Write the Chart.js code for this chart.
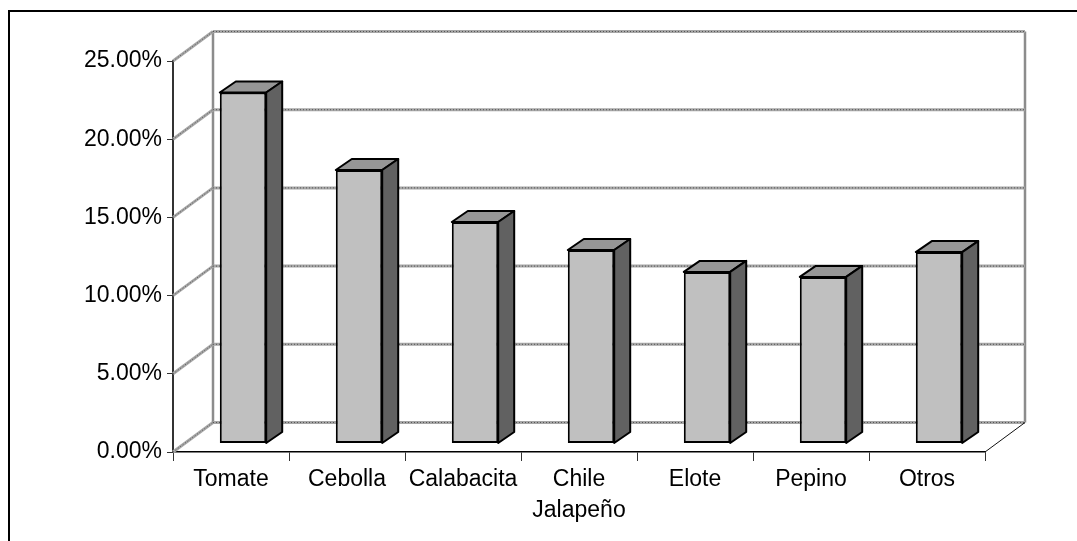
<!DOCTYPE html>
<html>
<head>
<meta charset="utf-8">
<title>Chart</title>
<script src="https://cdn.jsdelivr.net/npm/chart.js@4"></script>
<style>
  html, body { margin: 0; padding: 0; background: #fff; overflow: hidden; }
  canvas { display: block; }
</style>
</head>
<body>
<canvas id="myChart" width="1077" height="541"></canvas>
<script>
const categories = ["Tomate", "Cebolla", "Calabacita", ["Chile", "Jalapeño"], "Elote", "Pepino", "Otros"];
const values = [22.44, 17.49, 14.16, 12.37, 10.97, 10.65, 12.24];
const tickValues = [0, 5, 10, 15, 20, 25];

// fake 3d depth, in pixels
const wallDx = 40, wallDy = -29.5;
const barShiftX = 12, barShiftY = -8.5;
const barDx = 16, barDy = -11;

function line(ctx, x1, y1, x2, y2) {
  ctx.beginPath();
  ctx.moveTo(x1, y1);
  ctx.lineTo(x2, y2);
  ctx.stroke();
}

// gray line with a dotted dark core, like the old Excel gridlines
function gridLine(ctx, x1, y1, x2, y2) {
  ctx.setLineDash([]);
  ctx.strokeStyle = "#a6a6a6";
  ctx.lineWidth = 3;
  line(ctx, x1, y1, x2, y2);
  ctx.setLineDash([1, 2]);
  ctx.strokeStyle = "#555";
  ctx.lineWidth = 1;
  line(ctx, x1, y1, x2, y2);
  ctx.setLineDash([]);
}

const walls = {
  id: "walls",
  beforeDatasetsDraw(chart) {
    const { ctx, scales: { x, y } } = chart;
    const left = x.left, right = x.right;
    const bottom = y.getPixelForValue(0), top = y.getPixelForValue(25);
    ctx.save();

    // back wall edges
    ctx.strokeStyle = "#8c8c8c";
    ctx.lineWidth = 2.5;
    line(ctx, left + wallDx, top + wallDy, left + wallDx, bottom + wallDy);
    line(ctx, right + wallDx, top + wallDy, right + wallDx, bottom + wallDy);

    // gridlines across the back wall and down the side wall
    tickValues.forEach((v) => {
      const py = y.getPixelForValue(v);
      gridLine(ctx, left, py, left + wallDx, py + wallDy);
      gridLine(ctx, left + wallDx, py + wallDy, right + wallDx, py + wallDy);
    });

    // floor edge on the right
    ctx.strokeStyle = "#111";
    ctx.lineWidth = 1;
    line(ctx, right, bottom, right + wallDx, bottom + wallDy);
    ctx.restore();
  },
};

const bars3d = {
  id: "bars3d",
  beforeDatasetsDraw(chart) {
    const ctx = chart.ctx;
    ctx.save();
    ctx.translate(barShiftX, barShiftY);
    chart.getDatasetMeta(0).data.forEach((bar) => {
      const l = bar.x - bar.width / 2, r = bar.x + bar.width / 2;
      ctx.lineWidth = 2;
      ctx.strokeStyle = "#000";
      ctx.lineJoin = "round";

      ctx.fillStyle = "#969696";
      ctx.beginPath();
      ctx.moveTo(l, bar.y);
      ctx.lineTo(l + barDx, bar.y + barDy);
      ctx.lineTo(r + barDx, bar.y + barDy);
      ctx.lineTo(r, bar.y);
      ctx.closePath();
      ctx.fill();
      ctx.stroke();

      ctx.fillStyle = "#616161";
      ctx.beginPath();
      ctx.moveTo(r, bar.y);
      ctx.lineTo(r + barDx, bar.y + barDy);
      ctx.lineTo(r + barDx, bar.base + barDy);
      ctx.lineTo(r, bar.base);
      ctx.closePath();
      ctx.fill();
      ctx.stroke();
    });
    // the native front faces get drawn inside this same shift
  },
  afterDatasetsDraw(chart) {
    chart.ctx.restore();
  },
};

const frame = {
  id: "frame",
  afterDraw(chart) {
    const ctx = chart.ctx;
    ctx.save();
    ctx.strokeStyle = "#000";
    ctx.lineWidth = 2;
    line(ctx, 9, 541, 9, 11);
    line(ctx, 8, 11, 1077, 11);
    ctx.restore();
  },
};

const ctx = document.getElementById("myChart");

new Chart(ctx, {
  type: "bar",
  data: {
    labels: categories,
    datasets: [
      {
        data: values,
        backgroundColor: "#c0c0c0",
        borderColor: "#000",
        borderWidth: 2,
        borderSkipped: false,
        barPercentage: 0.4,
        categoryPercentage: 1,
      },
    ],
  },
  plugins: [walls, bars3d, frame],
  options: {
    responsive: false,
    animation: false,
    layout: { padding: { top: 61, right: 92, left: 0, bottom: 0 } },
    plugins: { legend: { display: false }, tooltip: { enabled: false } },
    scales: {
      x: {
        grid: { offset: true, drawOnChartArea: false, color: "#333", tickLength: 9, tickColor: "#333" },
        border: { color: "#000", width: 1.5 },
        ticks: {
          color: "#000",
          font: { family: "'Liberation Sans'", size: 23, lineHeight: 1.35 },
          maxRotation: 0,
          autoSkip: false,
          padding: 3,
        },
        afterFit(scale) { scale.height = 89; },
      },
      y: {
        min: 0,
        max: 25,
        grid: { drawOnChartArea: false, color: "#333", tickLength: 6, tickColor: "#333" },
        border: { color: "#333", width: 2 },
        afterBuildTicks(scale) { scale.ticks = tickValues.map((v) => ({ value: v })); },
        ticks: {
          color: "#000",
          font: { family: "'Liberation Sans'", size: 23 },
          padding: 5,
          callback: (v) => v.toFixed(2) + "%",
        },
        afterFit(scale) { scale.width = 173; },
      },
    },
  },
});
</script>
</body>
</html>
